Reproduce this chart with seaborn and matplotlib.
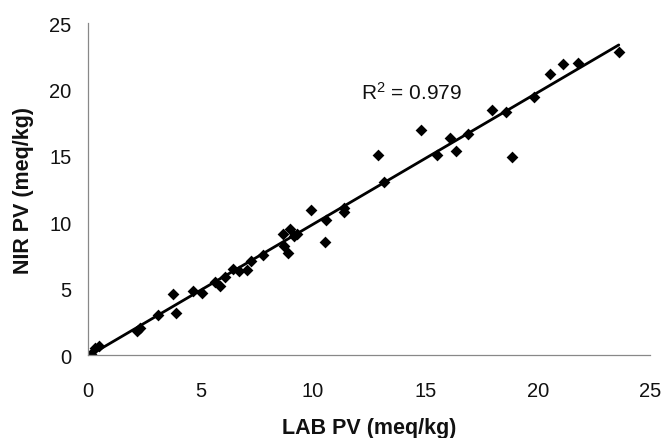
import matplotlib
matplotlib.use('Agg')
import matplotlib.pyplot as plt
import seaborn as sns
import pandas as pd

# LAB vs NIR peroxide values
lab_pv = [0.15, 0.3, 0.5, 2.2, 2.3, 3.1, 3.8, 3.9, 4.65, 5.05, 5.65, 5.85, 6.1,
          6.45, 6.7, 7.05, 7.25, 7.8, 8.65, 8.7, 8.9, 9.0, 9.15, 9.3, 9.9, 10.55,
          10.6, 11.4, 11.4, 12.9, 13.15, 14.8, 15.5, 16.1, 16.35, 16.9, 17.95,
          18.6, 18.85, 19.85, 20.55, 21.1, 21.8, 23.6]
nir_pv = [0.1, 0.5, 0.7, 1.8, 2.0, 3.0, 4.6, 3.2, 4.8, 4.7, 5.5, 5.2, 5.85,
          6.5, 6.35, 6.4, 7.1, 7.5, 9.1, 8.2, 7.7, 9.5, 9.0, 9.1, 10.9, 8.5,
          10.2, 11.1, 10.8, 15.1, 13.0, 16.95, 15.1, 16.35, 15.4, 16.65, 18.45,
          18.3, 14.9, 19.4, 21.2, 21.9, 22.0, 22.8]
r2_label = 'R$^2$ = 0.979'

df = pd.DataFrame({'lab': lab_pv, 'nir': nir_pv})

sns.set_style('white')
plt.rcParams['font.family'] = ['Liberation Sans', 'DejaVu Sans']
plt.rcParams['mathtext.default'] = 'regular'

fig, ax = plt.subplots(figsize=(6.69, 4.39), dpi=100)
fig.subplots_adjust(left=0.1315, right=0.972, bottom=0.189, top=0.945)

sns.regplot(data=df, x='lab', y='nir', ci=None, ax=ax, marker='D',
            scatter_kws={'color': 'black', 's': 36, 'linewidths': 0, 'alpha': 1},
            line_kws={'color': 'black', 'linewidth': 2.0})

ax.set_xlim(0, 25)
ax.set_ylim(0, 25)
ax.set_xticks(range(0, 26, 5))
ax.set_yticks(range(0, 26, 5))
ax.tick_params(axis='both', labelsize=14.5, length=5, width=0.8, color='#777777',
               direction='out', labelcolor='#111111')
ax.tick_params(axis='x', pad=13.5)
ax.tick_params(axis='y', pad=7)

for side in ['top', 'right']:
    ax.spines[side].set_visible(False)
for side in ['left', 'bottom']:
    ax.spines[side].set_color('#888888')
    ax.spines[side].set_linewidth(0.9)

ax.set_xlabel('LAB PV (meq/kg)', fontsize=15.5, fontweight='bold', labelpad=12.5, color='#111111')
ax.set_ylabel('NIR PV (meq/kg)', fontsize=15.5, fontweight='bold', labelpad=11, color='#111111')

ax.text(14.4, 19.8, r2_label, fontsize=15, ha='center', va='center', color='#111111')

fig.savefig('out.png', dpi=100)
